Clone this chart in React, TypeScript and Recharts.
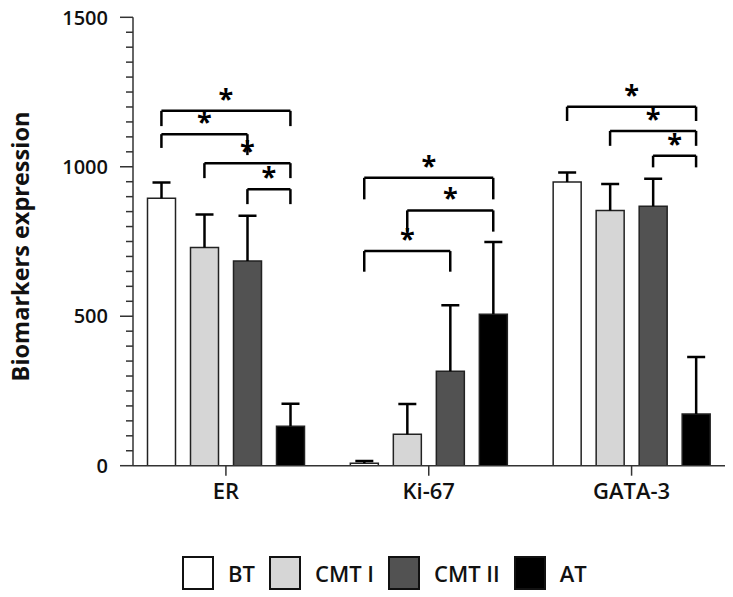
import React from 'react';
import { BarChart, Bar, XAxis, YAxis, ReferenceLine } from 'recharts';

// groups on the x axis
const categories = ['ER', 'Ki-67', 'GATA-3'];
const seriesNames = ['BT', 'CMT I', 'CMT II', 'AT'];
const seriesKeys = ['bt', 'cmt1', 'cmt2', 'at'];
const seriesFills = ['#ffffff', '#d6d6d6', '#525252', '#000000'];

// bar heights (mean) and upper error (SD)
const btValues = [895, 8, 949];
const btErrors = [52, 8, 32];
const cmt1Values = [730, 105, 854];
const cmt1Errors = [110, 101, 88];
const cmt2Values = [685, 316, 868];
const cmt2Errors = [151, 221, 92];
const atValues = [132, 507, 173];
const atErrors = [75, 241, 191];

const yMajorTicks = [0, 500, 1000, 1500];
const yAllTicks = [
  0, 50, 100, 150, 200, 250, 300, 350, 400, 450, 500, 550, 600, 650, 700, 750,
  800, 850, 900, 950, 1000, 1050, 1100, 1150, 1200, 1250, 1300, 1350, 1400, 1450, 1500,
];

// significance brackets: category, from series, to series, bar level, left/right end levels
const bracketCategory = [0, 0, 0, 0, 1, 1, 1, 2, 2, 2];
const bracketFrom = [0, 0, 1, 2, 0, 1, 0, 0, 1, 2];
const bracketTo = [3, 2, 3, 3, 3, 3, 2, 3, 3, 3];
const bracketTop = [1187, 1109, 1012, 925, 963, 854, 718, 1201, 1120, 1037];
const bracketLeftEnd = [1136, 1063, 962, 875, 891, 783, 649, 1153, 1070, 998];
const bracketRightEnd = [1136, 1039, 962, 875, 891, 783, 649, 1153, 1070, 998];

const W = 733;
const H = 597;
const Y_AXIS_W = 133;
const RIGHT = 8;
const PAD = { left: -8.5, right: -8 };
const BAR_SIZE = 28;
const BAR_GAP = 15;
const FONT = '"Open Sans", "DejaVu Sans", sans-serif';

const valueLists = [btValues, cmt1Values, cmt2Values, atValues];
const errorLists = [btErrors, cmt1Errors, cmt2Errors, atErrors];

const rows = categories.map((name, i) => {
  const row: any = { name, pos: i + 0.5 };
  seriesKeys.forEach((k, s) => {
    row[k] = valueLists[s][i];
    row[k + 'Err'] = errorLists[s][i];
  });
  return row;
});

// width of one category band in px, used to place bracket ends on bar centres
const bandPx = (W - RIGHT - Y_AXIS_W - PAD.left - PAD.right) / categories.length;
const barCenter = (cat: number, s: number) =>
  cat + 0.5 + ((s - (seriesKeys.length - 1) / 2) * (BAR_SIZE + BAR_GAP)) / bandPx;

// upper-only error whisker, stacked on top of its bar
const Whisker = (props: any) => {
  const { x, y, width, height } = props;
  const cx = x + width / 2;
  return (
    <g>
      <line x1={cx} y1={y} x2={cx} y2={y + height} stroke="#000" strokeWidth={2.5} />
      <line x1={cx - 9} y1={y} x2={cx + 9} y2={y} stroke="#000" strokeWidth={2.5} />
    </g>
  );
};

const YTick = (props: any) => {
  const { x, y, payload } = props;
  const major = yMajorTicks.includes(payload.value);
  return (
    <g>
      <line x1={x - (major ? 13 : 7)} y1={y} x2={x} y2={y} stroke="#333" strokeWidth={1.5} />
      {major && (
        <text x={x - 25} y={y} dy="0.36em" textAnchor="end" fontFamily={FONT} fontWeight={600} fontSize={20} fill="#111">
          {payload.value}
        </text>
      )}
    </g>
  );
};

const XTick = (props: any) => {
  const { x, y, payload } = props;
  return (
    <text x={x} y={y} dy={23} textAnchor="middle" fontFamily={FONT} fontWeight={600} fontSize={22} fill="#111">
      {payload.value}
    </text>
  );
};

const Star = (props: any) => {
  const vb = props.viewBox;
  return (
    <text x={vb.x + vb.width / 2} y={vb.y - 3} textAnchor="middle" fontFamily={FONT} fontWeight={700} fontSize={27} fill="#000">
      *
    </text>
  );
};

export default function App() {
  return (
    <div style={{ position: 'absolute', left: 0, top: 0, width: W, height: H, background: '#fff' }}>
      <BarChart
        width={W}
        height={H}
        data={rows}
        margin={{ top: 17.3, right: RIGHT, left: 0, bottom: 91.3 }}
        barSize={BAR_SIZE}
        barGap={BAR_GAP}
      >
        <XAxis
          dataKey="name"
          padding={PAD}
          height={40}
          axisLine={{ stroke: '#333', strokeWidth: 1.5 }}
          tickLine={{ stroke: '#333', strokeWidth: 1.5 }}
          tickSize={10}
          tickMargin={0}
          tick={<XTick />}
        />
        <XAxis xAxisId="num" type="number" dataKey="pos" domain={[0, 3]} padding={PAD} hide allowDataOverflow />
        <YAxis
          width={Y_AXIS_W}
          domain={[0, 1500]}
          allowDataOverflow
          ticks={yAllTicks}
          interval={0}
          tickSize={0}
          tickMargin={0}
          tickLine={false}
          axisLine={{ stroke: '#333', strokeWidth: 1.5 }}
          tick={<YTick />}
          label={(p: any) => {
            const vb = p.viewBox;
            const cx = vb.x + 29;
            const cy = vb.y + vb.height / 2 + 5;
            return (
              <text
                x={cx}
                y={cy}
                transform={`rotate(-90, ${cx}, ${cy})`}
                textAnchor="middle"
                fontFamily={FONT}
                fontWeight={700}
                fontSize={23.5}
                fill="#111"
              >
                Biomarkers expression
              </text>
            );
          }}
        />
        {seriesKeys.map((k, s) => [
          <Bar key={k} dataKey={k} stackId={k} name={seriesNames[s]} fill={seriesFills[s]} stroke="#222" strokeWidth={1.5} isAnimationActive={false} />,
          <Bar key={k + 'Err'} dataKey={k + 'Err'} stackId={k} shape={Whisker} isAnimationActive={false} />,
        ])}
        {bracketCategory.map((cat, b) => {
          const x1 = barCenter(cat, bracketFrom[b]);
          const x2 = barCenter(cat, bracketTo[b]);
          const y = bracketTop[b];
          return (
            <React.Fragment key={b}>
              <ReferenceLine xAxisId="num" segment={[{ x: x1, y }, { x: x2, y }]} stroke="#000" strokeWidth={2.5} ifOverflow="visible" label={Star} />
              <ReferenceLine xAxisId="num" segment={[{ x: x1, y }, { x: x1, y: bracketLeftEnd[b] }]} stroke="#000" strokeWidth={2.5} ifOverflow="visible" />
              <ReferenceLine xAxisId="num" segment={[{ x: x2, y }, { x: x2, y: bracketRightEnd[b] }]} stroke="#000" strokeWidth={2.5} ifOverflow="visible" />
            </React.Fragment>
          );
        })}
      </BarChart>
      <div
        style={{
          position: 'absolute',
          left: 182,
          top: 556,
          display: 'flex',
          alignItems: 'center',
          fontFamily: FONT,
          fontWeight: 600,
          fontSize: 22,
          color: '#111',
        }}
      >
        {seriesNames.map((n, s) => (
          <div key={n} style={{ display: 'flex', alignItems: 'center', marginRight: 14 }}>
            <div style={{ width: 28, height: 30, background: seriesFills[s], border: '2px solid #111', marginRight: 14 }} />
            <span>{n}</span>
          </div>
        ))}
      </div>
    </div>
  );
}
